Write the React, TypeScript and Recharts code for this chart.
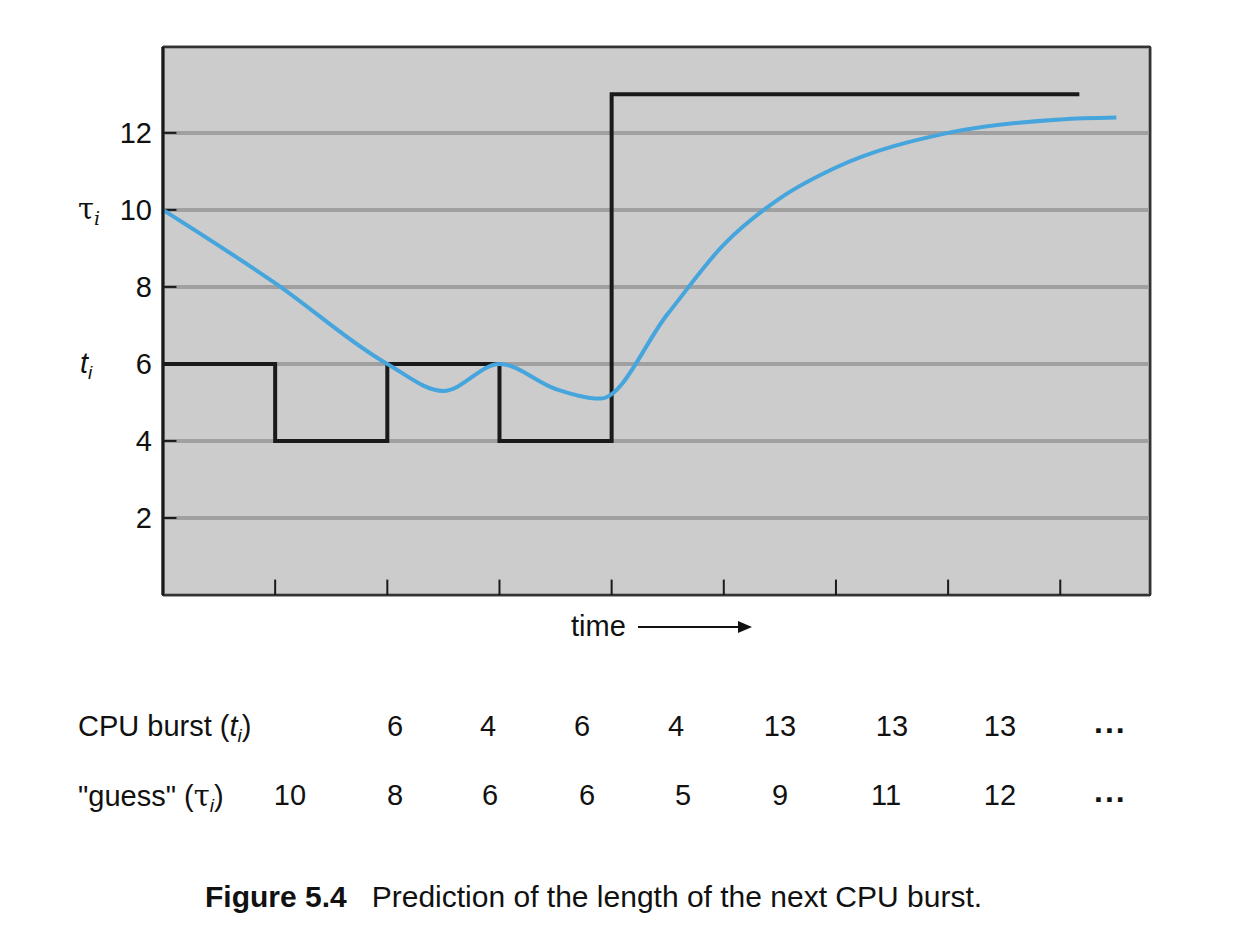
import { ComposedChart, Line, XAxis, YAxis, CartesianGrid, ReferenceLine, ReferenceArea } from "recharts";

// measured CPU bursts (step line) and exponential-average guesses (smooth curve)
const burstX = [0, 1, 2, 3, 4, 8.17];
const burstY = [6, 4, 6, 4, 13, 13];
const guessX = [0, 1, 2, 2.5, 3, 3.5, 3.9, 4.5, 5, 5.5, 6, 7, 8, 8.5];
const guessY = [10, 8.1, 6, 5.3, 6, 5.35, 5.1, 7.3, 9.1, 10.3, 11.1, 12, 12.35, 12.4];
const xTicks = [0, 1, 2, 3, 4, 5, 6, 7, 8];
const yTicks = [2, 4, 6, 8, 10, 12];

const burstRow = ["", "6", "4", "6", "4", "13", "13", "13"];
const guessRow = ["10", "8", "6", "6", "5", "9", "11", "12"];
const burstCols = [290, 395, 488, 582, 676, 780, 892, 1000];
const guessCols = [290, 395, 490, 587, 683, 780, 886, 1000];

const burstData = burstX.map((x, i) => ({ x, y: burstY[i] }));
const guessData = guessX.map((x, i) => ({ x, y: guessY[i] }));

const FONT = "'Liberation Sans', Arial, sans-serif";

const YTick = ({ y, payload }: any) => (
    <g>
        <text x={152} y={y} dy={10} textAnchor="end" fontSize={29} fill="#111" fontFamily={FONT}>{payload.value}</text>
        {payload.value === 10 && (
            <text x={78} y={y} dy={9} fontSize={29} fill="#111" fontFamily="'DejaVu Serif', serif">τ<tspan fontSize={19} fontStyle="italic" dy={6}>i</tspan></text>
        )}
        {payload.value === 6 && (
            <text x={80} y={y} dy={9} fontSize={29} fontStyle="italic" fill="#111" fontFamily={FONT}>t<tspan fontSize={19} dy={6}>i</tspan></text>
        )}
    </g>
);

const Sub = ({ children }: any) => <i style={{ fontSize: 19, verticalAlign: -6 }}>{children}</i>;

const ROW = { position: "absolute" as const, fontSize: 29 };

export default function App() {
    return (
        <div style={{ position: "absolute", left: 0, top: 0, width: 1242, height: 942, background: "#fff", fontFamily: FONT, color: "#111" }}>
            <ComposedChart width={1242} height={942} margin={{ top: 47, right: 92, bottom: 347, left: 0 }}>
                <CartesianGrid stroke="#a0a0a0" strokeWidth={4} fill="#cccccc" fillOpacity={1} />
                <ReferenceArea x1={0} x2={8.8} y1={0} y2={14.23} fill="none" stroke="#333" strokeWidth={2} />
                <XAxis type="number" dataKey="x" domain={[0, 8.8]} ticks={xTicks} tick={false} tickLine={false} height={0} axisLine={{ stroke: "#1a1a1a", strokeWidth: 3 }} allowDataOverflow />
                <YAxis type="number" dataKey="y" domain={[0, 14.23]} ticks={yTicks} tick={<YTick />} tickLine={false} width={163} axisLine={{ stroke: "#1a1a1a", strokeWidth: 3 }} allowDataOverflow />
                {xTicks.slice(1).map(t => (
                    <ReferenceLine key={"xt" + t} segment={[{ x: t, y: 0 }, { x: t, y: 0.4 }]} stroke="#1a1a1a" strokeWidth={2} />
                ))}
                {yTicks.map(t => (
                    <ReferenceLine key={"yt" + t} segment={[{ x: 0, y: t }, { x: 0.12, y: t }]} stroke="#1a1a1a" strokeWidth={2} />
                ))}
                <Line data={burstData} dataKey="y" type="stepAfter" stroke="#1a1a1a" strokeWidth={4} dot={false} isAnimationActive={false} />
                <Line data={guessData} dataKey="y" type="monotone" stroke="#45a5dc" strokeWidth={4} dot={false} isAnimationActive={false} />
            </ComposedChart>

            <div style={{ ...ROW, left: 571, top: 610, display: "flex", alignItems: "center" }}>
                time
                <svg width={115} height={20} style={{ marginLeft: 12 }}>
                    <line x1={0} y1={10} x2={102} y2={10} stroke="#111" strokeWidth={2} />
                    <polygon points="100,4 114,10 100,16" fill="#111" />
                </svg>
            </div>

            <div style={{ ...ROW, left: 78, top: 710 }}>CPU burst (<i>t</i><Sub>i</Sub>)</div>
            {burstRow.map((v, i) => (
                <div key={"b" + i} style={{ ...ROW, left: burstCols[i] - 40, width: 80, top: 710, textAlign: "center" }}>{v}</div>
            ))}
            <div style={{ ...ROW, left: 1094, top: 704, fontSize: 32, fontWeight: "bold", letterSpacing: 2 }}>...</div>

            <div style={{ ...ROW, left: 78, top: 779 }}>"guess" (<span style={{ fontFamily: "'DejaVu Serif', serif" }}>τ</span><Sub>i</Sub>)</div>
            {guessRow.map((v, i) => (
                <div key={"g" + i} style={{ ...ROW, left: guessCols[i] - 40, width: 80, top: 779, textAlign: "center" }}>{v}</div>
            ))}
            <div style={{ ...ROW, left: 1094, top: 773, fontSize: 32, fontWeight: "bold", letterSpacing: 2 }}>...</div>

            <div style={{ ...ROW, left: 205, top: 880, fontSize: 30 }}>
                <b>Figure 5.4</b>&nbsp;&nbsp;&nbsp;Prediction of the length of the next CPU burst.
            </div>
        </div>
    );
}
